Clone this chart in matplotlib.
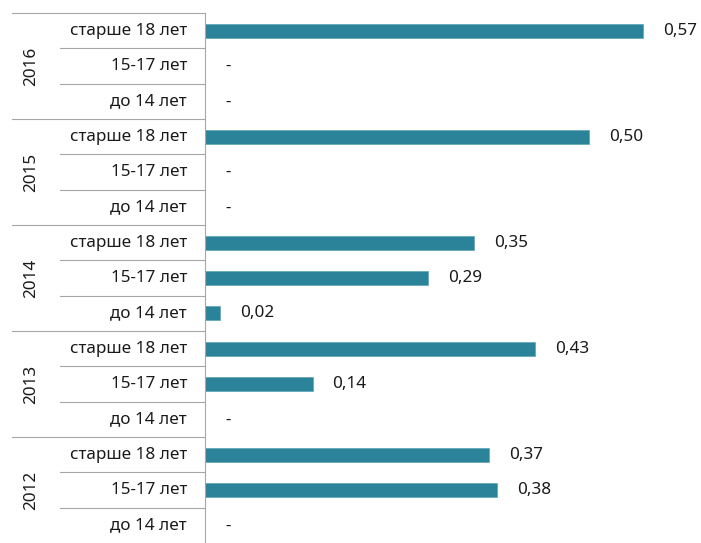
import matplotlib
matplotlib.use("Agg")
import matplotlib.pyplot as plt
import numpy as np

years = ["2016", "2015", "2014", "2013", "2012"]
categories = ["старше 18 лет", "15-17 лет", "до 14 лет"]
values = {
    "2016": [0.57, None, None],
    "2015": [0.50, None, None],
    "2014": [0.35, 0.29, 0.02],
    "2013": [0.43, 0.14, None],
    "2012": [0.37, 0.38, None],
}

plt.rcParams['font.family'] = ['Noto Sans', 'DejaVu Sans']
W, H = 701, 543
fig = plt.figure(figsize=(W / 100, H / 100), dpi=100)
ax_left = 205 / W
ax = fig.add_axes([ax_left, 0.0, 1 - ax_left, 1 - 13 / H])
axw = (1 - ax_left) * W

def ax_x(px):
    return (px - 205) / axw

bar_color = "#2b8399"
text_color = "#1a1a1a"
line_color = "#a6a6a6"
fs = 12.3

n = len(years) * len(categories)
ytr = ax.get_yaxis_transform()
row = 0
for gi, y in enumerate(years):
    for ci, c in enumerate(categories):
        v = values[y][ci]
        if v is not None:
            ax.barh(row, v, height=0.4, color=bar_color, edgecolor="#5aa6b8", linewidth=0.5)
            ax.annotate(f"{v:.2f}".replace(".", ","), (v, row), xytext=(14.4, 0),
                        textcoords="offset points", va="center", ha="left",
                        fontsize=fs, color=text_color)
        else:
            ax.annotate("-", (0, row), xytext=(14.4, 0), textcoords="offset points",
                        va="center", ha="left", fontsize=fs, color=text_color)
        ax.text(ax_x(187), row, c, transform=ytr, ha="right", va="center",
                fontsize=fs, color=text_color, clip_on=False)
        if ci < len(categories) - 1:
            ax.plot([ax_x(60), 0], [row + 0.5, row + 0.5], transform=ytr,
                    color=line_color, lw=0.8, clip_on=False)
        row += 1
    top = gi * 3 - 0.5
    ax.plot([ax_x(12), 0], [top, top], transform=ytr, color=line_color, lw=0.8, clip_on=False)
    ax.text(ax_x(31), gi * 3 + 1, y, transform=ytr, rotation=90, ha="center", va="center",
            fontsize=fs, color=text_color, clip_on=False)

ax.set_ylim(n - 0.5, -0.5)
ax.set_xlim(0, axw / 768)
for s in ["top", "right", "bottom"]:
    ax.spines[s].set_visible(False)
ax.spines["left"].set_color(line_color)
ax.spines["left"].set_linewidth(0.8)
ax.set_xticks([])
ax.set_yticks([])

fig.savefig("out.png", dpi=100)
